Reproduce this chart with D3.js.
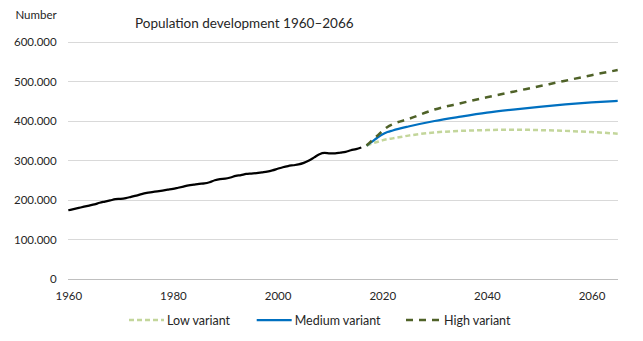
<!DOCTYPE html>
<html>
<head>
<meta charset="utf-8">
<script src="https://cdn.jsdelivr.net/npm/d3@7"></script>
<style>
  html, body { margin: 0; padding: 0; background: #fff; }
  svg { display: block; }
  text { font-family: Lato, "Liberation Sans", sans-serif; fill: #262626; }
</style>
</head>
<body>
<svg id="chart" width="643" height="341"></svg>
<script>
// Registered population, 1960–2016
const histYears = [1960,1961,1962,1963,1964,1965,1966,1967,1968,1969,
  1970,1971,1972,1973,1974,1975,1976,1977,1978,1979,
  1980,1981,1982,1983,1984,1985,1986,1987,1988,1989,
  1990,1991,1992,1993,1994,1995,1996,1997,1998,1999,
  2000,2001,2002,2003,2004,2005,2006,2007,2008,2009,
  2010,2011,2012,2013,2014,2015,2016];
const histValues = [174000,177000,180000,183000,186000,189000,193000,196000,199000,202000,
  203000,205000,208000,211000,215000,218000,220000,222000,224000,226000,
  228000,231000,234000,237000,239000,241000,242000,245000,250000,253000,
  254000,257000,261000,263000,266000,267000,268000,270000,272000,275000,
  279000,283000,286000,288000,290000,294000,300000,308000,316000,319000,
  318000,318000,320000,322000,326000,329000,333000];

// Projection variants, 2017–2065
const projYears  = [2017,2018,2019,2020,2021,2022,2025,2030,2035,2040,2045,2050,2055,2060,2065];
const lowValues  = [338000,343000,347000,351000,354000,356000,363000,371000,375000,377000,378000,377000,375000,372000,368000];
const medValues  = [338000,347000,357000,366000,372000,376000,386000,400000,411000,421000,429000,436000,442000,447000,451000];
const highValues = [338000,350000,362000,374000,385000,392000,405000,429000,445000,460000,474000,488000,502000,516000,529000];

const xTicks = [1960,1980,2000,2020,2040,2060];
const yTicks = [0,100000,200000,300000,400000,500000,600000];
const legendLabels = ["Low variant","Medium variant","High variant"];

const svg = d3.select("#chart");
const x = d3.scaleLinear().domain([1960, 2065]).range([68.3, 617.7]);
const y = d3.scaleLinear().domain([0, 600000]).range([279, 42]);

const locale = d3.formatLocale({decimal: ",", thousands: ".", grouping: [3], currency: ["", ""]});
const fmt = locale.format(",d");

// horizontal gridlines
svg.append("g")
  .selectAll("line")
  .data(yTicks)
  .join("line")
  .attr("x1", x.range()[0]).attr("x2", x.range()[1])
  .attr("y1", d => y(d)).attr("y2", d => y(d))
  .attr("stroke", d => d === 0 ? "#bfbfbf" : "#d9d9d9")
  .attr("stroke-width", 1)
  .attr("shape-rendering", "crispEdges");

// y axis labels
const yAxis = d3.axisLeft(y).tickValues(yTicks).tickFormat(fmt).tickSize(0).tickPadding(0);
svg.append("g")
  .attr("transform", "translate(56.7,0)")
  .call(yAxis)
  .call(g => g.select(".domain").remove())
  .selectAll("text")
  .attr("font-family", "Lato, 'Liberation Sans', sans-serif")
  .attr("font-size", 11.5)
  .attr("fill", "#262626");

// x axis labels
const xAxis = d3.axisBottom(x).tickValues(xTicks).tickFormat(d3.format("d")).tickSize(0).tickPadding(0);
svg.append("g")
  .attr("transform", "translate(0,292)")
  .call(xAxis)
  .call(g => g.select(".domain").remove())
  .selectAll("text")
  .attr("font-family", "Lato, 'Liberation Sans', sans-serif")
  .attr("font-size", 11.5)
  .attr("fill", "#262626");

// axis title and chart title
svg.append("text").attr("x", 56.7).attr("y", 19).attr("text-anchor", "end")
  .attr("font-size", 11.5).text("Number");
svg.append("text").attr("x", 135).attr("y", 28)
  .attr("font-size", 13.5).text("Population development 1960–2066");

const line = d3.line().x(d => x(d[0])).y(d => y(d[1])).curve(d3.curveMonotoneX);

const series = [
  {name: legendLabels[0], values: lowValues,  color: "#c3d69b", width: 2.5, dash: "5,3"},
  {name: legendLabels[1], values: medValues,  color: "#0070c0", width: 2.25, dash: null},
  {name: legendLabels[2], values: highValues, color: "#4f6228", width: 2.5, dash: "7,6"}
];

// historical line
svg.append("path")
  .datum(histYears.map((yr, i) => [yr, histValues[i]]))
  .attr("d", line)
  .attr("fill", "none")
  .attr("stroke", "#000")
  .attr("stroke-width", 2.25)
  .attr("stroke-linejoin", "round");

// projection lines
svg.append("g")
  .selectAll("path")
  .data(series)
  .join("path")
  .attr("d", s => line(projYears.map((yr, i) => [yr, s.values[i]])))
  .attr("fill", "none")
  .attr("stroke", s => s.color)
  .attr("stroke-width", s => s.width)
  .attr("stroke-dasharray", s => s.dash);

// legend
const legendX = [129, 256.7, 406];
const lg = svg.append("g").selectAll("g").data(series).join("g")
  .attr("transform", (s, i) => `translate(${legendX[i]},320)`);
lg.append("line")
  .attr("x1", 0).attr("x2", 35).attr("y1", 0).attr("y2", 0)
  .attr("stroke", s => s.color)
  .attr("stroke-width", s => s.width)
  .attr("stroke-dasharray", s => s.dash);
lg.append("text")
  .attr("x", 38).attr("y", 4.5)
  .attr("font-size", 12.5)
  .text(s => s.name);
</script>
</body>
</html>
